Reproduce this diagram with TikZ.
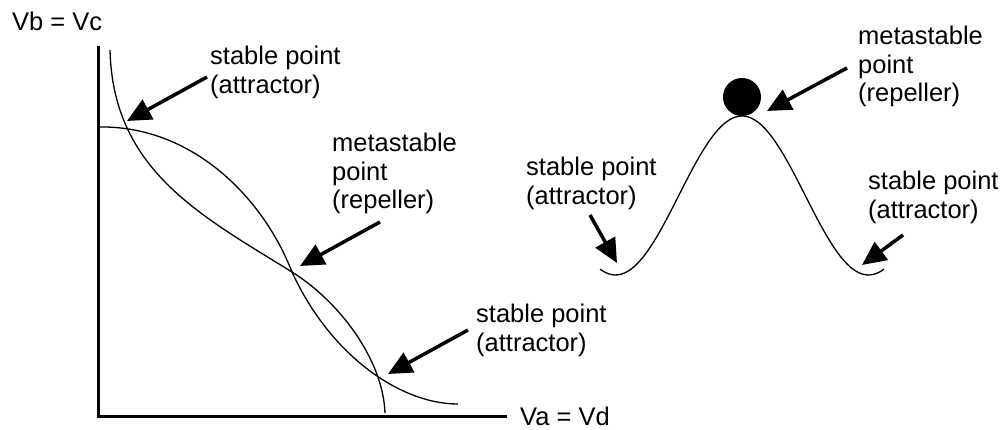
\documentclass[tikz,border=0pt]{standalone}
\usepackage{fontspec}
\setmainfont{Liberation Sans}
\usetikzlibrary{arrows.meta}

\begin{document}
\begin{tikzpicture}[x=1pt, y=-1pt,
        txt/.style={anchor=north west, align=left, inner sep=0pt, font=\fontsize{25.5}{28.5}\selectfont},
        axis/.style={line width=3pt, line join=miter},
        curve/.style={line width=1.3pt},
        pointer/.style={line width=3.5pt, -{Triangle[length=24pt, width=22pt]}},
        ball/.style={circle, fill=black, minimum size=38pt, inner sep=0pt}
    ]
    \useasboundingbox (0,0) rectangle (1005,430);

    % Left diagram - transfer curves
    \coordinate (ytop) at (98,46);
    \coordinate (orig) at (98,417);
    \coordinate (xend) at (507,417);
    \draw[axis] (ytop) -- (orig) -- (xend);
    \node[txt] (vbvc) at (12,12) {Vb = Vc};
    \node[txt] (vavd) at (520,407) {Va = Vd};

    \coordinate (m1) at (292,272);
    \draw[curve] (98,127) .. controls (190,125) and (262,195) .. (m1)
        .. controls (330,355) and (400,404) .. (458,404);
    \draw[curve] (110,50) .. controls (113,170) and (200,215) .. (m1)
        .. controls (340,302) and (383,360) .. (385,413);

    \node[txt] (stableA) at (210,46) {stable point\\(attractor)};
    \node[txt] (metaA) at (332,133) {metastable\\point\\(repeller)};
    \node[txt] (stableB) at (476,304) {stable point\\(attractor)};

    \coordinate (tA) at (207,77);
    \coordinate (hA) at (127,121);
    \coordinate (tB) at (380,222);
    \coordinate (hB) at (300,266);
    \coordinate (tC) at (468,330);
    \coordinate (hC) at (388,374);
    \draw[pointer] (tA) -- (hA);
    \draw[pointer] (tB) -- (hB);
    \draw[pointer] (tC) -- (hC);

    % Right diagram - ball on a hill
    \draw[curve] plot[domain=-202:202, samples=80] ({742+\x/180*126.5}, {195.5-79.5*cos(\x)});
    \node[ball] (ball) at (742,97) {};

    \node[txt] (metaB) at (858,26) {metastable\\point\\(repeller)};
    \node[txt] (stableC) at (526,157) {stable point\\(attractor)};
    \node[txt] (stableD) at (868,171) {stable point\\(attractor)};

    \coordinate (tD) at (847,68);
    \coordinate (hD) at (767,111);
    \coordinate (tE) at (590,215);
    \coordinate (hE) at (617,263);
    \coordinate (tF) at (903,235);
    \coordinate (hF) at (862,265);
    \draw[pointer] (tD) -- (hD);
    \draw[pointer] (tE) -- (hE);
    \draw[pointer] (tF) -- (hF);
\end{tikzpicture}
\end{document}
